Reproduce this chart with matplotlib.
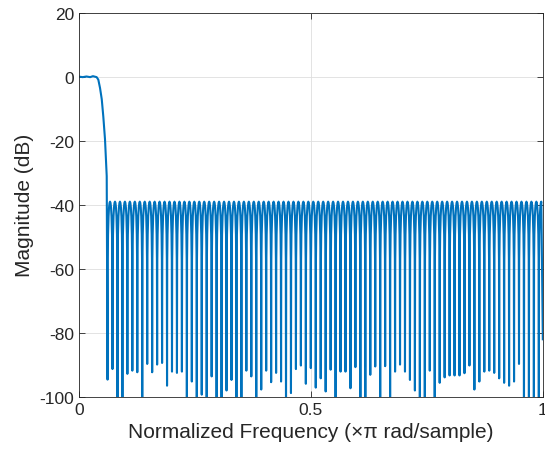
import numpy as np
import matplotlib
matplotlib.use("Agg")
import matplotlib.pyplot as plt

# passband + transition (normalized freq, dB)
pass_freq = [0.0, 0.008, 0.016, 0.024, 0.030, 0.036]
pass_db = [0.05, -0.1, 0.1, -0.1, 0.2, 0.0]
trans_freq = [0.038, 0.0416, 0.0453, 0.049, 0.0524, 0.056, 0.0597]
trans_db = [-0.1, -0.9, -3.5, -7.0, -12.5, -19.5, -31.0]

# stopband nulls: first / last position and depth of each one (-110 = below the axis)
first_null = 0.0615
last_null = 0.9914
null_db = [-94.6, -91.3, -110, -110, -92.8, -91.8, -92.3, -110, -89.7, -92.3,
           -89.9, -89.4, -96.5, -92.1, -92.5, -92.1, -110, -95.2, -110, -99.3,
           -110, -93.6, -110, -110, -98.0, -94.7, -110, -110, -91.8, -93.6,
           -110, -97.7, -91.8, -95.4, -92.5, -95.2, -110, -98.8, -91.3, -90.2,
           -95.9, -91.0, -97.1, -94.2, -98.3, -91.5, -110, -92.1, -92.1, -97.3,
           -90.7, -110, -110, -93.1, -90.5, -110, -90.4, -110, -92.1, -89.9,
           -92.1, -94.7, -98.0, -110, -110, -91.8, -110, -95.6, -93.9, -93.3,
           -93.3, -93.3, -92.6, -90.2, -97.7, -95.2, -92.1, -91.8, -92.5, -94.2,
           -95.6, -96.5, -95.2, -89.7, -110, -110, -110, -110]
end_db = -82.0

# shape of one stopband lobe between two nulls (fraction of spacing, dB)
lobe_pos = [0.04, 0.1, 0.2, 0.3, 0.4, 0.5, 0.6, 0.7, 0.8, 0.9, 0.96]
lobe_db = [-57.0, -49.2, -43.6, -40.8, -39.4, -39.0, -39.4, -40.8, -43.6, -49.2, -57.0]

null_freq = np.linspace(first_null, last_null, len(null_db))
step = null_freq[1] - null_freq[0]

freq = list(pass_freq) + list(trans_freq)
mag = list(pass_db) + list(trans_db)
for k in range(len(null_db)):
    freq.append(null_freq[k])
    mag.append(null_db[k])
    for p, v in zip(lobe_pos, lobe_db):
        if k == len(null_db) - 1 and p > 0.5:
            break
        freq.append(null_freq[k] + p * step)
        mag.append(v)
freq.append(1.0)
mag.append(end_db)

plt.rcParams['font.family'] = ['Liberation Sans', 'DejaVu Sans']
plt.rcParams['axes.unicode_minus'] = False

edge = '#262626'
fig = plt.figure(figsize=(5.45, 4.6), dpi=100)
ax = fig.add_axes([0.145, 0.135, 0.851, 0.835])
ax.plot(freq, mag, color='#0072BD', lw=1.5)

ax.set_xlim(0, 1)
ax.set_ylim(-100, 20)
ax.set_xticks([0, 0.5, 1])
ax.set_xticklabels(['0', '0.5', '1'])
ax.set_yticks(np.arange(-100, 21, 20))
ax.grid(True, color='#dedede', lw=0.6)
ax.set_axisbelow(True)
for s in ax.spines.values():
    s.set_color(edge)
    s.set_linewidth(0.6)
ax.tick_params(direction='in', length=4, width=0.6, colors=edge, labelsize=12.5,
               top=True, right=True)
ax.set_xlabel('Normalized Frequency (\u00d7\u03c0 rad/sample)', fontsize=15, color=edge)
ax.set_ylabel('Magnitude (dB)', fontsize=15, color=edge)

fig.savefig('out.png', dpi=100, facecolor='white')
